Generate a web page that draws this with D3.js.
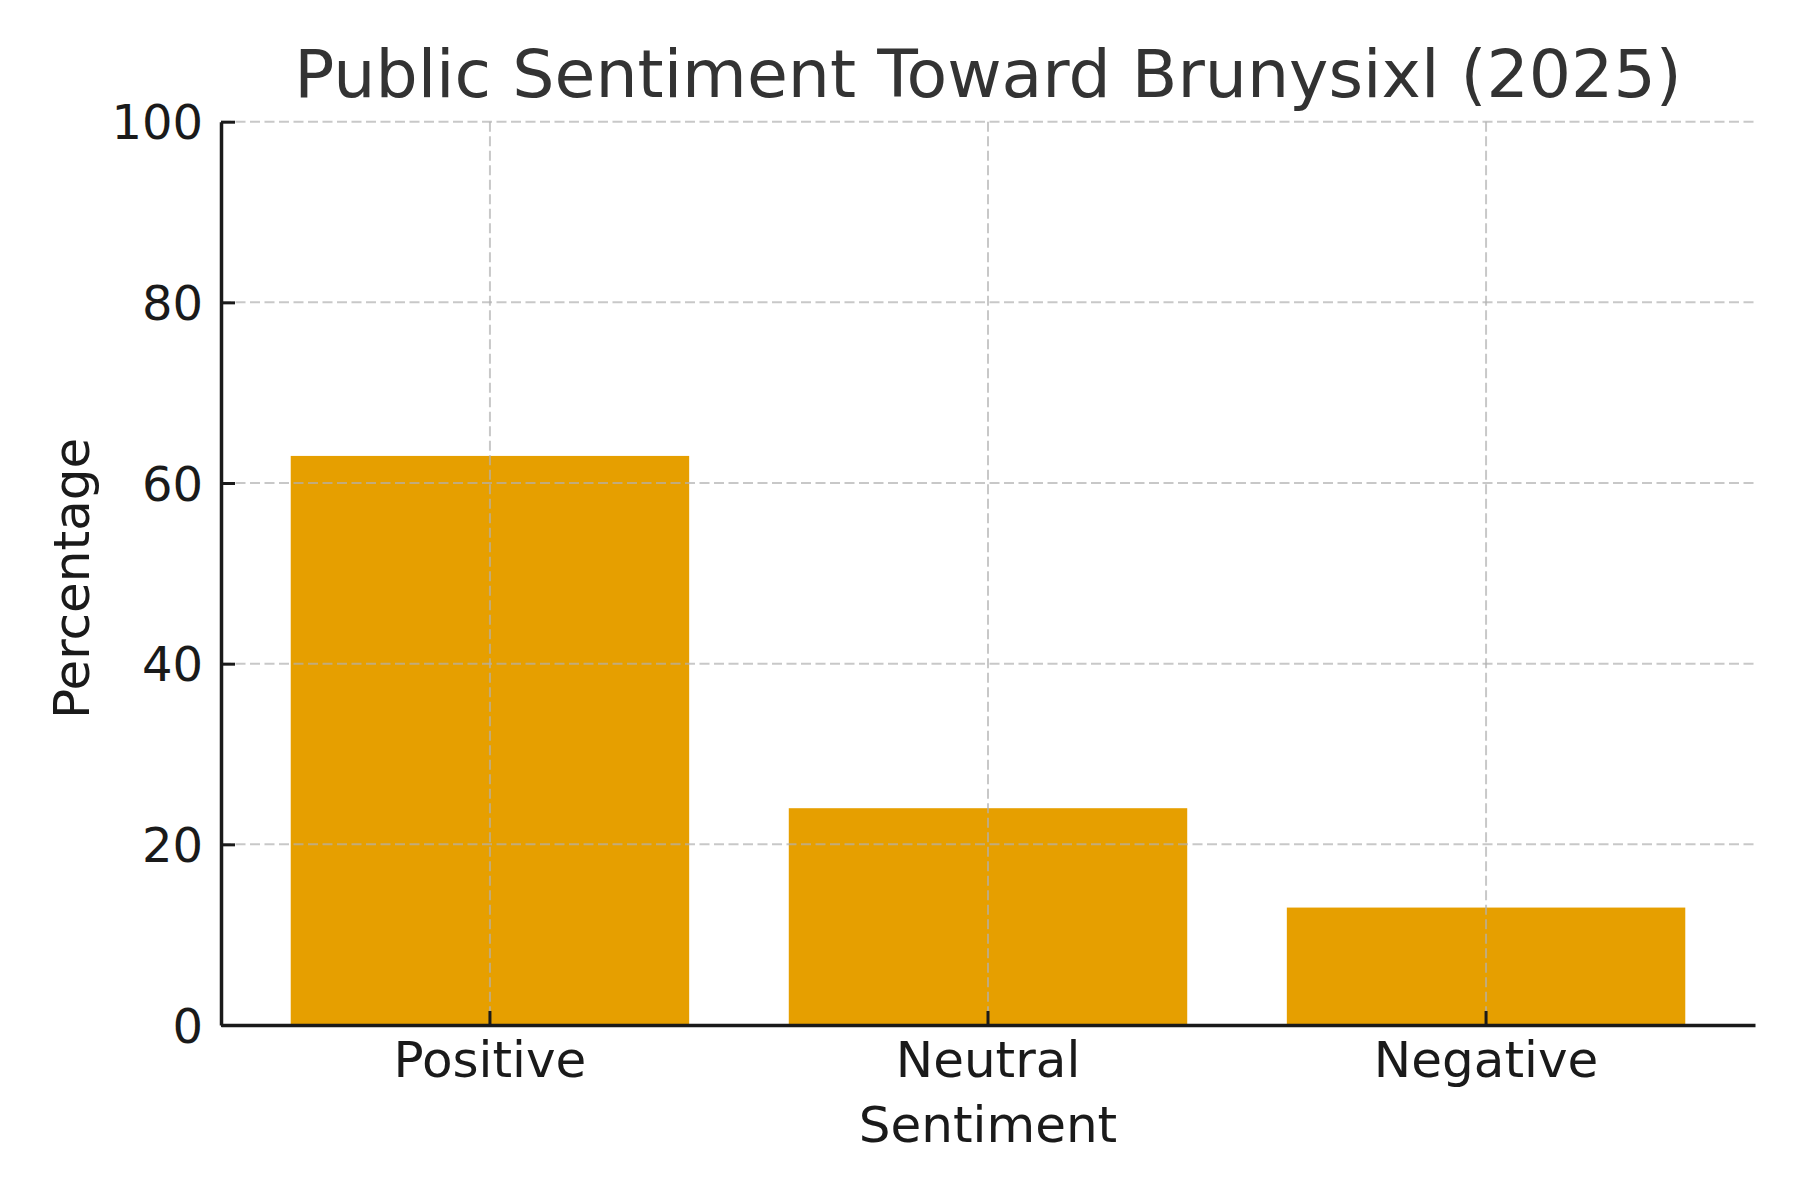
<!DOCTYPE html>
<html>
<head>
<meta charset="utf-8">
<script src="https://cdn.jsdelivr.net/npm/d3@7"></script>
<style>
  body { margin: 0; background: #fff; }
  svg text { font-family: "DejaVu Sans", sans-serif; }
</style>
</head>
<body>
<svg width="1800" height="1200"></svg>
<script>
// data
var categories = ["Positive", "Neutral", "Negative"];
var percentages = [63, 24, 13];
var yTicks = [0, 20, 40, 60, 80, 100];
var title = "Public Sentiment Toward Brunysixl (2025)";
var xTitle = "Sentiment";
var yTitle = "Percentage";

var margin = { top: 121.7, right: 45, bottom: 175, left: 221 };
var width = 1800 - margin.left - margin.right;
var height = 1200 - margin.top - margin.bottom;

var svg = d3.select("svg");
var g = svg.append("g")
    .attr("transform", "translate(" + margin.left + "," + margin.top + ")");

var x = d3.scaleBand()
    .domain(categories)
    .range([0, width])
    .paddingInner(0.2)
    .paddingOuter(0.14);
var y = d3.scaleLinear().domain([0, 100]).range([height, 0]);

// bars
g.selectAll("rect.bar")
    .data(percentages)
    .enter().append("rect")
    .attr("class", "bar")
    .attr("x", function (d, i) { return x(categories[i]); })
    .attr("width", x.bandwidth())
    .attr("y", function (d) { return y(d); })
    .attr("height", function (d) { return height - y(d); })
    .attr("fill", "#E69F00");

// grid on top of bars
var grid = g.append("g").attr("class", "grid");
grid.selectAll("line.h")
    .data(yTicks)
    .enter().append("line")
    .attr("x1", 0).attr("x2", width)
    .attr("y1", function (d) { return y(d); })
    .attr("y2", function (d) { return y(d); });
grid.selectAll("line.v")
    .data(categories)
    .enter().append("line")
    .attr("x1", function (d) { return x(d) + x.bandwidth() / 2; })
    .attr("x2", function (d) { return x(d) + x.bandwidth() / 2; })
    .attr("y1", 0).attr("y2", height);
grid.selectAll("line")
    .attr("stroke", "#b0b0b0")
    .attr("stroke-opacity", 0.7)
    .attr("stroke-width", 2)
    .attr("stroke-dasharray", "10,4.5");

// axes, ticks pointing inward
var xAxis = g.append("g")
    .attr("transform", "translate(0," + height + ")")
    .call(d3.axisBottom(x).tickSizeInner(-14).tickSizeOuter(0).tickPadding(28));
var yAxis = g.append("g")
    .call(d3.axisLeft(y).tickValues(yTicks).tickSizeInner(-14).tickSizeOuter(0).tickPadding(18));

[xAxis, yAxis].forEach(function (a) {
    a.select(".domain").attr("stroke", "#1a1a1a").attr("stroke-width", 3.5);
    a.selectAll(".tick line").attr("stroke", "#1a1a1a").attr("stroke-width", 3);
    a.selectAll(".tick text")
        .attr("fill", "#1a1a1a")
        .style("font-size", "48px")
        .style("font-family", "'DejaVu Sans', sans-serif");
});
xAxis.selectAll(".tick text").attr("dy", null).attr("y", 52).style("font-size", "50px");
yAxis.selectAll(".tick text").attr("x", -18).attr("dy", "0.36em");

// titles
svg.append("text")
    .attr("x", margin.left + width / 2)
    .attr("y", 97)
    .attr("text-anchor", "middle")
    .attr("fill", "#333333")
    .style("font-size", "66.5px")
    .text(title);

svg.append("text")
    .attr("x", margin.left + width / 2)
    .attr("y", 1142)
    .attr("text-anchor", "middle")
    .attr("fill", "#1a1a1a")
    .style("font-size", "50px")
    .text(xTitle);

svg.append("text")
    .attr("transform", "translate(89," + (margin.top + height / 2 + 5) + ") rotate(-90)")
    .attr("text-anchor", "middle")
    .attr("fill", "#1a1a1a")
    .style("font-size", "50px")
    .text(yTitle);
</script>
</body>
</html>
